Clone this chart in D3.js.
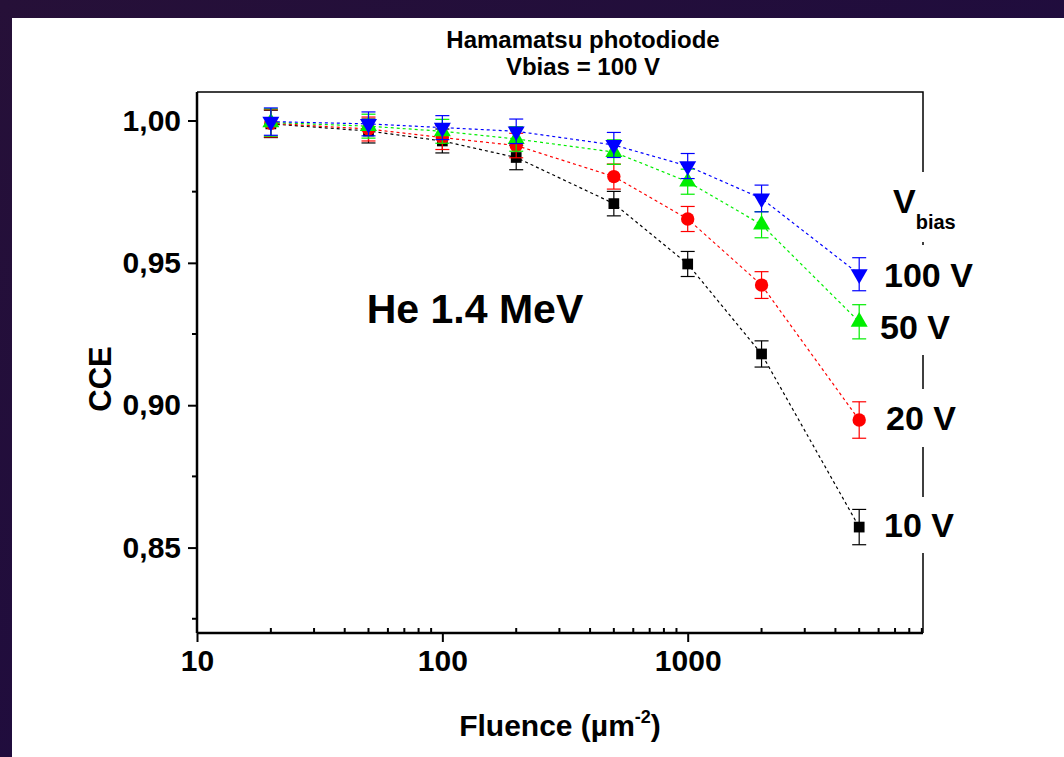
<!DOCTYPE html>
<html>
<head>
<meta charset="utf-8">
<script src="https://cdn.jsdelivr.net/npm/d3@7"></script>
<style>
  html, body { margin: 0; padding: 0; }
  body { width: 1064px; height: 757px; overflow: hidden; background: #fff; }
  svg { display: block; }
  text { font-family: "Liberation Sans", Arial, Helvetica, sans-serif; font-weight: bold; fill: #000; }
</style>
</head>
<body>
<svg id="chart" width="1064" height="757"></svg>
<script>
// Fluence values (µm^-2) and charge collection efficiency per bias voltage
const fluence = [20, 50, 100, 200, 500, 1000, 2000, 5000];
const cce10  = [0.9988, 0.9963, 0.9928, 0.9870, 0.9708, 0.9496, 0.9180, 0.8572];
const cce20  = [0.9990, 0.9970, 0.9940, 0.9912, 0.9803, 0.9654, 0.9422, 0.8948];
const cce50  = [0.9993, 0.9980, 0.9962, 0.9935, 0.9889, 0.9785, 0.9634, 0.9293];
const cce100 = [0.9996, 0.9988, 0.9975, 0.9962, 0.9914, 0.9840, 0.9726, 0.9460];
const err10  = [0.0048, 0.0042, 0.0042, 0.0043, 0.0043, 0.0044, 0.0046, 0.0062];
const err20  = [0.0048, 0.0042, 0.0042, 0.0043, 0.0044, 0.0044, 0.0047, 0.0064];
const err50  = [0.0048, 0.0042, 0.0042, 0.0043, 0.0043, 0.0044, 0.0046, 0.0060];
const err100 = [0.0048, 0.0042, 0.0042, 0.0043, 0.0044, 0.0044, 0.0047, 0.0058];
const seriesNames = ["10 V", "20 V", "50 V", "100 V"];
const yTickValues = [0.85, 0.90, 0.95, 1.00];
const yTickLabels = ["0,85", "0,90", "0,95", "1,00"];
const xTickValues = [10, 100, 1000];
const xTickLabels = ["10", "100", "1000"];

const FONT = "'Liberation Sans', Arial, sans-serif";

const series = [
  { name: seriesNames[0], y: cce10,  e: err10,  color: "#000000", shape: "square" },
  { name: seriesNames[1], y: cce20,  e: err20,  color: "#ff0000", shape: "circle" },
  { name: seriesNames[2], y: cce50,  e: err50,  color: "#00ee00", shape: "up" },
  { name: seriesNames[3], y: cce100, e: err100, color: "#0000ff", shape: "down" }
];

const svg = d3.select("#chart");

// dark frame around the white canvas
const defs = svg.append("defs");
const grad = defs.append("linearGradient").attr("id", "frame")
  .attr("x1", 0).attr("y1", 0).attr("x2", 1).attr("y2", 1);
grad.append("stop").attr("offset", "0%").attr("stop-color", "#261038");
grad.append("stop").attr("offset", "60%").attr("stop-color", "#1f0c3e");
grad.append("stop").attr("offset", "100%").attr("stop-color", "#2a0f14");
svg.append("rect").attr("width", 1064).attr("height", 757).attr("fill", "url(#frame)");
svg.append("rect").attr("x", 12).attr("y", 18).attr("width", 1052).attr("height", 739).attr("fill", "#ffffff");

const plotL = 197, plotR = 923, plotT = 92, plotB = 633;
const x = d3.scaleLog().domain([10, 9100]).range([plotL, plotR]);
const y = d3.scaleLinear().domain([0.82, 1.01]).range([plotB, plotT]);

// frame of the plot area (top and right edges)
svg.append("path")
  .attr("d", `M${plotL},${plotT}H${plotR}V${plotB}`)
  .attr("fill", "none").attr("stroke", "#000").attr("stroke-width", 1.5);

// x axis: major ticks outside, minor ticks inside
const xMinor = [];
for (let d = 10; d < 10000; d *= 10) for (let k = 2; k <= 9; k++) if (d * k <= 9100) xMinor.push(d * k);
const gx = svg.append("g").attr("transform", `translate(0,${plotB})`);
gx.call(d3.axisBottom(x).tickValues(xTickValues).tickFormat((d, i) => xTickLabels[i]).tickSize(9).tickPadding(8))
  .call(g => g.select(".domain").attr("stroke-width", 2.5).attr("d", `M${plotL},0H${plotR}`));
gx.selectAll(".tick line").attr("stroke-width", 2);
gx.selectAll(".tick text").attr("font-size", 30).attr("font-family", FONT).attr("font-weight", "bold");
gx.append("g").selectAll("line").data(xMinor).join("line")
  .attr("x1", d => x(d)).attr("x2", d => x(d)).attr("y1", 0).attr("y2", -5)
  .attr("stroke", "#000").attr("stroke-width", 2);

// y axis: ticks outside, minor ticks halfway
const yMinor = [0.825, 0.875, 0.925, 0.975];
const gy = svg.append("g").attr("transform", `translate(${plotL},0)`);
gy.call(d3.axisLeft(y).tickValues(yTickValues).tickFormat((d, i) => yTickLabels[i]).tickSize(9).tickPadding(7))
  .call(g => g.select(".domain").attr("stroke-width", 2.5).attr("d", `M0,${plotT}V${plotB}`));
gy.selectAll(".tick line").attr("stroke-width", 2);
gy.selectAll(".tick text").attr("font-size", 30).attr("font-family", FONT).attr("font-weight", "bold");
gy.append("g").selectAll("line").data(yMinor).join("line")
  .attr("x1", 0).attr("x2", -5).attr("y1", d => y(d)).attr("y2", d => y(d))
  .attr("stroke", "#000").attr("stroke-width", 2);

// data: dashed connecting lines, error bars, markers
const line = d3.line().x(d => x(d[0])).y(d => y(d[1]));
const symbols = {
  square: d3.symbol().type(d3.symbolSquare).size(115),
  circle: d3.symbol().type(d3.symbolCircle).size(140),
  up: d3.symbol().type(d3.symbolTriangle).size(125)
};
series.forEach(s => {
  const pts = fluence.map((f, i) => [f, s.y[i], s.e[i]]);
  const g = svg.append("g");
  g.append("path").attr("d", line(pts)).attr("fill", "none")
    .attr("stroke", s.color).attr("stroke-width", 1.2).attr("stroke-dasharray", "3,3");
  const eb = g.selectAll(".eb").data(pts).join("g");
  eb.append("line").attr("x1", d => x(d[0])).attr("x2", d => x(d[0]))
    .attr("y1", d => y(d[1] - d[2])).attr("y2", d => y(d[1] + d[2]))
    .attr("stroke", s.color).attr("stroke-width", 1.2);
  [1, -1].forEach(sg => {
    eb.append("line").attr("x1", d => x(d[0]) - 7).attr("x2", d => x(d[0]) + 7)
      .attr("y1", d => y(d[1] + sg * d[2])).attr("y2", d => y(d[1] + sg * d[2]))
      .attr("stroke", s.color).attr("stroke-width", 1.2);
  });
  const sym = s.shape === "down" ? symbols.up : symbols[s.shape];
  g.selectAll(".m").data(pts).join("path")
    .attr("d", sym)
    .attr("transform", d => `translate(${x(d[0])},${y(d[1])})` + (s.shape === "down" ? " rotate(180)" : ""))
    .attr("fill", s.color);
});

// titles and labels
svg.append("text").attr("x", 583).attr("y", 48).attr("text-anchor", "middle").attr("font-size", 24).text("Hamamatsu photodiode");
svg.append("text").attr("x", 583).attr("y", 75).attr("text-anchor", "middle").attr("font-size", 24).text("Vbias = 100 V");
svg.append("text").attr("x", 475).attr("y", 323).attr("text-anchor", "middle").attr("font-size", 41).text("He 1.4 MeV");

const xl = svg.append("text").attr("x", 560).attr("y", 736).attr("text-anchor", "middle").attr("font-size", 30);
xl.append("tspan").text("Fluence (µm");
xl.append("tspan").attr("font-size", 18).attr("dy", -13).text("-2");
xl.append("tspan").attr("dy", 13).text(")");

svg.append("text").attr("transform", "translate(111,379) rotate(-90)").attr("text-anchor", "middle").attr("font-size", 31).text("CCE");

// legend labels with white backing over the right edge
const legend = [
  { label: seriesNames[3], x: 884, y: 287 },
  { label: seriesNames[2], x: 880, y: 339 },
  { label: seriesNames[1], x: 886, y: 430 },
  { label: seriesNames[0], x: 884, y: 537 }
];
svg.append("rect").attr("x", 880).attr("y", 172).attr("width", 90).attr("height", 70).attr("fill", "#fff");
svg.append("rect").attr("x", 876).attr("y", 245).attr("width", 110).attr("height", 110).attr("fill", "#fff");
svg.append("rect").attr("x", 880).attr("y", 389).attr("width", 100).attr("height", 58).attr("fill", "#fff");
svg.append("rect").attr("x", 880).attr("y", 497).attr("width", 100).attr("height", 56).attr("fill", "#fff");
legend.forEach(l => svg.append("text").attr("x", l.x).attr("y", l.y).attr("font-size", 34).text(l.label));
const vb = svg.append("text").attr("x", 893).attr("y", 213).attr("font-size", 34);
vb.append("tspan").text("V");
vb.append("tspan").attr("font-size", 20).attr("dy", 16).text("bias");
</script>
</body>
</html>
